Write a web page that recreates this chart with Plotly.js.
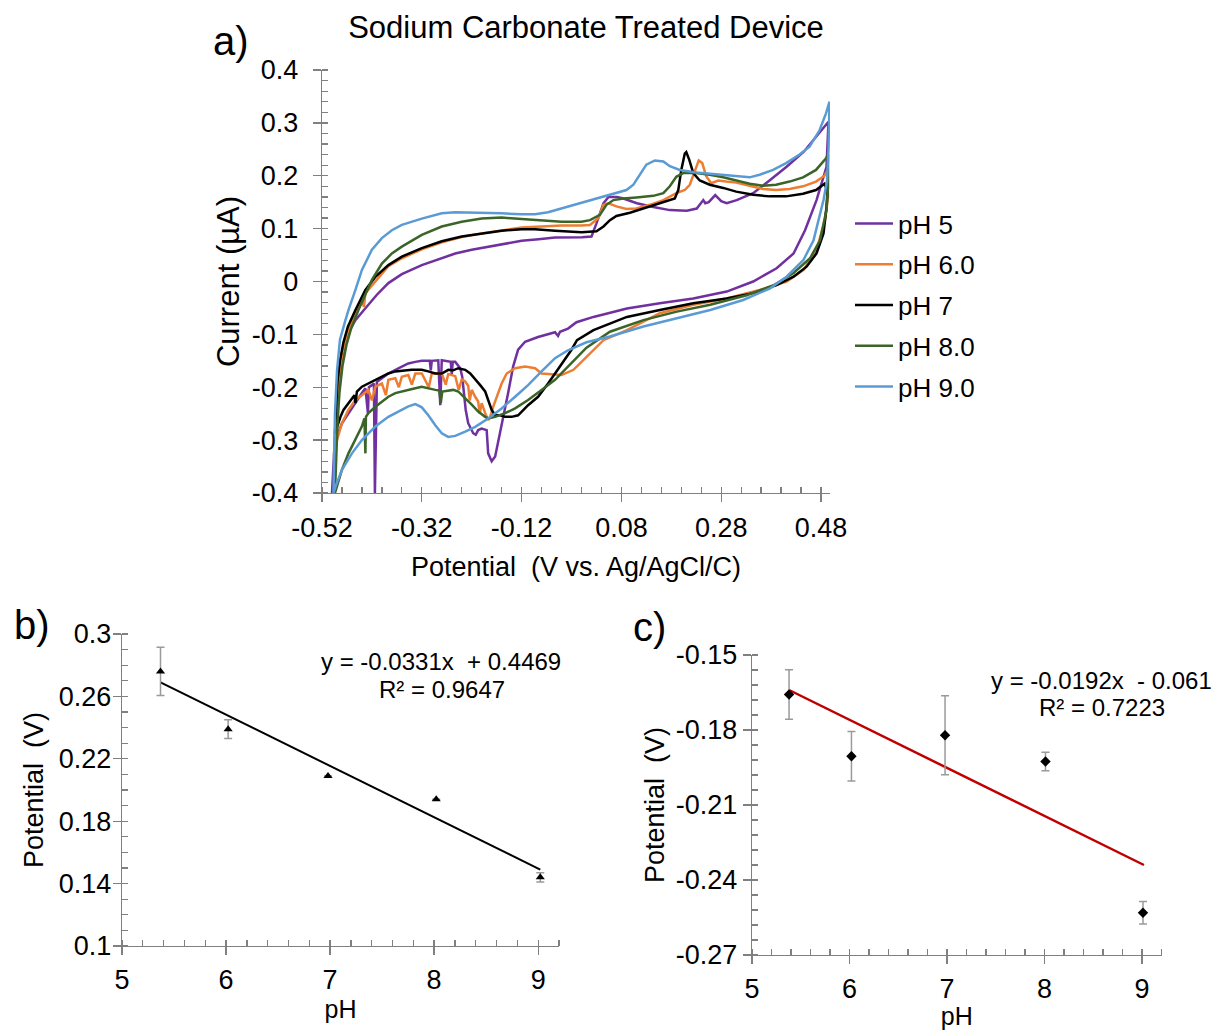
<!DOCTYPE html>
<html>
<head>
<meta charset="utf-8">
<script src="https://cdn.plot.ly/plotly-3.0.1.min.js"></script>
<style>
html,body{margin:0;padding:0;background:#ffffff;}
#chart{width:1214px;height:1030px;}
</style>
</head>
<body>
<div id="chart"></div>
<script>
// ---------------- Panel a) cyclic voltammograms (forward = upper branch, reverse = lower branch)
const seriesNames = ['pH 5', 'pH 6.0', 'pH 7', 'pH 8.0', 'pH 9.0'];

const pH5_fwd_x = [-0.500,-0.497,-0.494,-0.490,-0.484,-0.476,-0.466,-0.453,-0.436,-0.410,-0.387,-0.360,-0.320,-0.280,-0.253,-0.220,-0.186,-0.150,-0.120,-0.086,-0.053,0.001,0.020,0.030,0.044,0.054,0.071,0.084,0.111,0.144,0.177,0.211,0.231,0.244,0.248,0.255,0.268,0.280,0.291,0.311,0.344,0.378,0.411,0.445,0.471,0.495];
const pH5_fwd_y = [-0.400,-0.340,-0.280,-0.225,-0.175,-0.130,-0.095,-0.073,-0.054,-0.025,-0.003,0.014,0.031,0.044,0.053,0.060,0.066,0.072,0.077,0.080,0.083,0.0835,0.085,0.110,0.148,0.160,0.160,0.157,0.148,0.141,0.135,0.134,0.138,0.154,0.148,0.150,0.1635,0.152,0.148,0.154,0.167,0.192,0.217,0.245,0.274,0.302];
const pH5_rev_x = [0.491,0.471,0.448,0.425,0.391,0.344,0.291,0.224,0.157,0.091,0.024,-0.010,-0.027,-0.043,-0.047,-0.053,-0.087,-0.113,-0.127,-0.137,-0.147,-0.157,-0.167,-0.173,-0.180,-0.187,-0.190,-0.200,-0.207,-0.212,-0.217,-0.223,-0.227,-0.232,-0.235,-0.239,-0.243,-0.253,-0.258,-0.260,-0.262,-0.267,-0.280,-0.283,-0.287,-0.300,-0.302,-0.304,-0.320,-0.333,-0.347,-0.360,-0.373,-0.387,-0.400,-0.410,-0.414,-0.416,-0.420,-0.426,-0.428,-0.433,-0.440,-0.453,-0.467,-0.480,-0.490,-0.493,-0.496,-0.498];
const pH5_rev_y = [0.217,0.154,0.097,0.053,0.025,0.000,-0.019,-0.032,-0.041,-0.051,-0.067,-0.077,-0.089,-0.095,-0.103,-0.096,-0.105,-0.114,-0.129,-0.161,-0.211,-0.256,-0.300,-0.331,-0.340,-0.325,-0.281,-0.278,-0.281,-0.290,-0.287,-0.274,-0.268,-0.243,-0.211,-0.180,-0.164,-0.152,-0.152,-0.175,-0.152,-0.151,-0.149,-0.234,-0.149,-0.150,-0.168,-0.150,-0.150,-0.152,-0.155,-0.161,-0.167,-0.174,-0.183,-0.190,-0.400,-0.193,-0.196,-0.200,-0.249,-0.202,-0.211,-0.230,-0.249,-0.268,-0.293,-0.312,-0.356,-0.400];

const pH6_fwd_x = [-0.496,-0.494,-0.491,-0.486,-0.479,-0.470,-0.460,-0.450,-0.440,-0.436,-0.433,-0.413,-0.387,-0.360,-0.320,-0.280,-0.240,-0.200,-0.160,-0.120,-0.080,-0.040,0.000,0.017,0.034,0.044,0.054,0.070,0.090,0.110,0.137,0.164,0.190,0.207,0.217,0.227,0.235,0.242,0.250,0.260,0.274,0.290,0.310,0.337,0.364,0.390,0.417,0.444,0.470,0.487,0.493];
const pH6_fwd_y = [-0.330,-0.280,-0.230,-0.180,-0.135,-0.100,-0.075,-0.054,-0.035,-0.048,-0.022,0.000,0.029,0.044,0.061,0.074,0.084,0.091,0.097,0.102,0.104,0.106,0.106,0.107,0.120,0.145,0.148,0.142,0.137,0.138,0.145,0.154,0.167,0.173,0.183,0.211,0.229,0.224,0.199,0.186,0.191,0.189,0.187,0.181,0.175,0.173,0.175,0.180,0.189,0.200,0.210];
const pH6_rev_x = [0.494,0.488,0.471,0.445,0.411,0.357,0.291,0.224,0.157,0.091,0.044,0.010,-0.016,-0.040,-0.080,-0.093,-0.113,-0.133,-0.150,-0.160,-0.170,-0.177,-0.183,-0.187,-0.193,-0.200,-0.204,-0.207,-0.213,-0.220,-0.224,-0.227,-0.233,-0.240,-0.246,-0.253,-0.267,-0.272,-0.280,-0.300,-0.306,-0.320,-0.333,-0.340,-0.347,-0.360,-0.366,-0.373,-0.387,-0.392,-0.400,-0.413,-0.420,-0.427,-0.440,-0.453,-0.467,-0.480,-0.490,-0.496];
const pH6_rev_y = [0.160,0.116,0.060,0.022,0.000,-0.016,-0.032,-0.044,-0.060,-0.092,-0.111,-0.142,-0.167,-0.177,-0.174,-0.164,-0.161,-0.164,-0.174,-0.193,-0.218,-0.237,-0.256,-0.262,-0.249,-0.230,-0.250,-0.227,-0.218,-0.205,-0.225,-0.197,-0.189,-0.185,-0.205,-0.179,-0.175,-0.195,-0.174,-0.174,-0.200,-0.174,-0.174,-0.195,-0.177,-0.180,-0.200,-0.183,-0.186,-0.215,-0.193,-0.199,-0.225,-0.205,-0.215,-0.224,-0.243,-0.268,-0.300,-0.330];

const pH7_fwd_x = [-0.494,-0.492,-0.489,-0.484,-0.477,-0.468,-0.460,-0.453,-0.433,-0.413,-0.387,-0.360,-0.320,-0.280,-0.240,-0.200,-0.160,-0.120,-0.093,-0.053,0.000,0.030,0.044,0.057,0.070,0.097,0.124,0.150,0.170,0.187,0.194,0.200,0.207,0.210,0.216,0.224,0.237,0.257,0.284,0.310,0.344,0.377,0.410,0.444,0.470,0.487];
const pH7_fwd_y = [-0.287,-0.240,-0.190,-0.150,-0.115,-0.085,-0.068,-0.054,-0.016,0.009,0.031,0.047,0.063,0.076,0.085,0.091,0.096,0.099,0.099,0.096,0.093,0.095,0.104,0.116,0.124,0.130,0.138,0.146,0.151,0.157,0.173,0.211,0.242,0.245,0.230,0.205,0.191,0.183,0.177,0.170,0.164,0.161,0.161,0.166,0.173,0.185];
const pH7_rev_x = [0.493,0.491,0.485,0.471,0.451,0.425,0.391,0.344,0.291,0.224,0.157,0.091,0.024,-0.009,-0.020,-0.040,-0.053,-0.067,-0.087,-0.107,-0.120,-0.127,-0.140,-0.153,-0.163,-0.173,-0.180,-0.187,-0.193,-0.203,-0.213,-0.223,-0.233,-0.247,-0.257,-0.267,-0.280,-0.293,-0.307,-0.320,-0.340,-0.360,-0.373,-0.387,-0.400,-0.413,-0.427,-0.440,-0.450,-0.453,-0.455,-0.467,-0.477,-0.483,-0.490,-0.494];
const pH7_rev_y = [0.170,0.141,0.091,0.053,0.028,0.009,-0.007,-0.022,-0.032,-0.041,-0.054,-0.067,-0.092,-0.111,-0.129,-0.155,-0.174,-0.193,-0.218,-0.234,-0.246,-0.253,-0.256,-0.256,-0.253,-0.253,-0.243,-0.224,-0.208,-0.196,-0.186,-0.174,-0.167,-0.164,-0.168,-0.167,-0.174,-0.174,-0.170,-0.167,-0.167,-0.168,-0.170,-0.174,-0.180,-0.186,-0.193,-0.199,-0.208,-0.230,-0.215,-0.230,-0.243,-0.256,-0.274,-0.287];

const pH8_fwd_x = [-0.494,-0.492,-0.489,-0.485,-0.479,-0.471,-0.462,-0.447,-0.420,-0.400,-0.380,-0.360,-0.320,-0.280,-0.240,-0.200,-0.160,-0.120,-0.080,-0.040,0.000,0.017,0.037,0.050,0.064,0.084,0.110,0.144,0.164,0.177,0.190,0.204,0.230,0.257,0.284,0.310,0.337,0.364,0.390,0.417,0.444,0.470,0.490,0.494];
const pH8_fwd_y = [-0.400,-0.330,-0.270,-0.210,-0.160,-0.120,-0.090,-0.054,0.003,0.034,0.053,0.066,0.088,0.104,0.113,0.119,0.121,0.118,0.115,0.113,0.113,0.116,0.126,0.145,0.154,0.157,0.159,0.162,0.167,0.180,0.198,0.205,0.205,0.202,0.197,0.191,0.185,0.181,0.183,0.189,0.197,0.211,0.233,0.240];
const pH8_rev_x = [0.494,0.491,0.478,0.458,0.425,0.385,0.331,0.258,0.191,0.124,0.057,0.010,-0.027,-0.053,-0.080,-0.107,-0.133,-0.153,-0.173,-0.187,-0.193,-0.207,-0.220,-0.233,-0.247,-0.257,-0.267,-0.279,-0.282,-0.285,-0.293,-0.307,-0.320,-0.333,-0.347,-0.360,-0.373,-0.387,-0.400,-0.413,-0.427,-0.432,-0.433,-0.435,-0.440,-0.453,-0.467,-0.480,-0.490,-0.494];
const pH8_rev_y = [0.180,0.135,0.078,0.044,0.016,-0.007,-0.026,-0.044,-0.057,-0.073,-0.095,-0.125,-0.161,-0.186,-0.205,-0.224,-0.240,-0.249,-0.256,-0.259,-0.256,-0.246,-0.233,-0.221,-0.208,-0.205,-0.207,-0.208,-0.230,-0.206,-0.205,-0.202,-0.199,-0.202,-0.205,-0.208,-0.211,-0.218,-0.227,-0.237,-0.249,-0.256,-0.325,-0.259,-0.274,-0.300,-0.325,-0.356,-0.388,-0.400];

const pH9_fwd_x = [-0.497,-0.496,-0.494,-0.490,-0.484,-0.473,-0.467,-0.453,-0.440,-0.420,-0.400,-0.380,-0.360,-0.320,-0.280,-0.253,-0.200,-0.160,-0.120,-0.093,-0.067,-0.040,-0.023,0.017,0.057,0.090,0.104,0.117,0.130,0.147,0.164,0.177,0.197,0.230,0.277,0.310,0.337,0.357,0.384,0.410,0.437,0.457,0.477,0.490,0.497];
const pH9_fwd_y = [-0.400,-0.330,-0.250,-0.170,-0.110,-0.073,-0.054,-0.016,0.022,0.060,0.082,0.097,0.107,0.119,0.129,0.131,0.130,0.129,0.127,0.127,0.131,0.138,0.143,0.154,0.163,0.173,0.183,0.202,0.221,0.229,0.227,0.218,0.211,0.206,0.202,0.200,0.197,0.202,0.211,0.224,0.240,0.255,0.286,0.318,0.340];
const pH9_rev_x = [0.495,0.492,0.485,0.465,0.445,0.411,0.378,0.324,0.258,0.191,0.124,0.057,0.010,-0.027,-0.053,-0.080,-0.107,-0.133,-0.160,-0.187,-0.213,-0.233,-0.253,-0.267,-0.280,-0.293,-0.307,-0.320,-0.333,-0.347,-0.360,-0.387,-0.413,-0.440,-0.460,-0.480,-0.493,-0.497];
const pH9_rev_y = [0.250,0.190,0.154,0.078,0.041,0.009,-0.013,-0.035,-0.054,-0.070,-0.085,-0.104,-0.115,-0.130,-0.145,-0.170,-0.196,-0.218,-0.240,-0.259,-0.275,-0.284,-0.292,-0.294,-0.287,-0.272,-0.253,-0.238,-0.232,-0.236,-0.242,-0.256,-0.274,-0.300,-0.325,-0.356,-0.388,-0.400];

const cvTickVals = [-0.52,-0.32,-0.12,0.08,0.28,0.48];
const cvTickText = ['-0.52','-0.32','-0.12','0.08','0.28','0.48'];
const curTickVals = [-0.4,-0.3,-0.2,-0.1,0,0.1,0.2,0.3,0.4];
const curTickText = ['-0.4','-0.3','-0.2','-0.1','0','0.1','0.2','0.3','0.4'];

// ---------------- Panel b)
const pH_b = [5.37, 6.02, 6.98, 8.02, 9.02];
const potential_b = [0.276, 0.239, 0.209, 0.194, 0.144];
const error_b = [0.0155, 0.006, 0, 0, 0.003];
const trend_b_x = [5.37, 9.02];
const trend_b_y = [0.269, 0.149];
const potBTickVals = [0.1,0.14,0.18,0.22,0.26,0.3];
const potBTickText = ['0.1','0.14','0.18','0.22','0.26','0.3'];

// ---------------- Panel c)
const pH_c = [5.38, 6.02, 6.98, 8.01, 9.01];
const potential_c = [-0.1658, -0.1905, -0.1821, -0.1926, -0.2531];
const error_c = [0.0099, 0.0099, 0.0158, 0.0037, 0.0045];
const trend_c_x = [5.38, 9.02];
const trend_c_y = [-0.164, -0.234];
const potCTickVals = [-0.27,-0.24,-0.21,-0.18,-0.15];
const potCTickText = ['-0.27','-0.24','-0.21','-0.18','-0.15'];

const pHTickVals = [5,6,7,8,9];
const pHTickText = ['5','6','7','8','9'];

// ---------------- styling
const FONT = 'Liberation Sans, Arial, Helvetica, sans-serif';
const AX = '#808080';
const colors = ['#7030A0', '#ED7D31', '#000000', '#3B6528', '#5B9BD5'];
const W = 1214, H = 1030;
const fx = p => p / W;
const fy = p => 1 - p / H;

const cvSets = [
  [pH5_fwd_x, pH5_fwd_y, pH5_rev_x, pH5_rev_y],
  [pH6_fwd_x, pH6_fwd_y, pH6_rev_x, pH6_rev_y],
  [pH7_fwd_x, pH7_fwd_y, pH7_rev_x, pH7_rev_y],
  [pH8_fwd_x, pH8_fwd_y, pH8_rev_x, pH8_rev_y],
  [pH9_fwd_x, pH9_fwd_y, pH9_rev_x, pH9_rev_y]
];

const traces = cvSets.map((s, i) => ({
  type: 'scatter', mode: 'lines',
  x: s[0].concat(s[2]), y: s[1].concat(s[3]),
  name: seriesNames[i], legendgroup: 'g' + i,
  line: { color: colors[i], width: 2.5 },
  xaxis: 'x', yaxis: 'y', hoverinfo: 'skip'
}));

traces.push({
  type: 'scatter', mode: 'lines', x: trend_b_x, y: trend_b_y,
  line: { color: '#000000', width: 2 }, xaxis: 'x2', yaxis: 'y2', showlegend: false, hoverinfo: 'skip'
});
traces.push({
  type: 'scatter', mode: 'markers', x: pH_b, y: potential_b,
  marker: { symbol: 'triangle-up', size: 8, color: '#000000' },
  error_y: { type: 'data', array: error_b, visible: true, color: '#9a9a9a', thickness: 1.5, width: 4 },
  xaxis: 'x2', yaxis: 'y2', showlegend: false, hoverinfo: 'skip'
});
traces.push({
  type: 'scatter', mode: 'lines', x: trend_c_x, y: trend_c_y,
  line: { color: '#C00000', width: 2.5 }, xaxis: 'x3', yaxis: 'y3', showlegend: false, hoverinfo: 'skip'
});
traces.push({
  type: 'scatter', mode: 'markers', x: pH_c, y: potential_c,
  marker: { symbol: 'diamond', size: 8, color: '#000000' },
  error_y: { type: 'data', array: error_c, visible: true, color: '#9a9a9a', thickness: 1.5, width: 4 },
  xaxis: 'x3', yaxis: 'y3', showlegend: false, hoverinfo: 'skip'
});

function mainAxis(o) {
  const base = {
    showline: true, linecolor: AX, linewidth: 1.3,
    ticks: 'outside', ticklen: 8, tickwidth: 1.3, tickcolor: AX,
    showgrid: false, zeroline: false, fixedrange: true, automargin: false,
    tickmode: 'array',
    tickfont: { family: FONT, size: 27, color: '#000000' }
  };
  return Object.assign(base, o);
}
function crossAxis(o) {
  const base = {
    showline: false, showgrid: false, zeroline: false, fixedrange: true,
    ticks: 'inside', ticklen: 8, tickwidth: 1.3, tickcolor: AX,
    showticklabels: false, tickmode: 'array', automargin: false
  };
  return Object.assign(base, o);
}

const layout = {
  width: W, height: H,
  margin: { l: 0, r: 0, t: 0, b: 0, pad: 0 },
  paper_bgcolor: '#ffffff', plot_bgcolor: '#ffffff',
  font: { family: FONT, color: '#000000' },
  title: { text: 'Sodium Carbonate Treated Device', x: fx(586), xanchor: 'center', y: fy(27), yanchor: 'middle',
           font: { family: FONT, size: 31, color: '#000000' } },
  showlegend: true,
  legend: { x: fx(850), y: fy(200), xanchor: 'left', yanchor: 'top', bgcolor: 'rgba(0,0,0,0)',
            font: { family: FONT, size: 26, color: '#000000' }, tracegroupgap: 4, itemwidth: 38 },
  // panel a
  xaxis: mainAxis({ domain: [fx(322), fx(830)], anchor: 'y', range: [-0.52, 0.498],
    tickvals: cvTickVals, ticktext: cvTickText, ticklabelstandoff: 2,
    minor: { tick0: -0.52, dtick: 0.04, ticks: 'inside', ticklen: 6, tickwidth: 1.3, tickcolor: AX, showgrid: false },
    title: { text: 'Potential  (V vs. Ag/AgCl/C)', standoff: 15, font: { family: FONT, size: 27, color: '#000000' } } }),
  yaxis: mainAxis({ domain: [fy(493), fy(70)], anchor: 'x', range: [-0.4, 0.4],
    tickvals: curTickVals, ticktext: curTickText, ticklabelstandoff: 9,
    minor: { tick0: -0.4, dtick: 0.02, ticks: 'inside', ticklen: 6, tickwidth: 1.3, tickcolor: AX, showgrid: false },
    title: { text: 'Current (µA)', standoff: 3, font: { family: FONT, size: 31, color: '#000000' } } }),
  // panel b
  xaxis2: mainAxis({ domain: [fx(122), fx(559)], anchor: 'y2', range: [5, 9.2],
    tickvals: pHTickVals, ticktext: pHTickText, ticklabelstandoff: 1,
    minor: { tick0: 5, dtick: 0.2, ticks: 'inside', ticklen: 6, tickwidth: 1.3, tickcolor: AX, showgrid: false },
    title: { text: 'pH', standoff: 6, font: { family: FONT, size: 25, color: '#000000' } } }),
  yaxis2: mainAxis({ domain: [fy(946), fy(634)], anchor: 'x2', range: [0.1, 0.3],
    tickvals: potBTickVals, ticktext: potBTickText, ticklabelstandoff: -4,
    minor: { tick0: 0.1, dtick: 0.01, ticks: 'inside', ticklen: 6, tickwidth: 1.3, tickcolor: AX, showgrid: false },
    title: { text: 'Potential  (V)', standoff: 7, font: { family: FONT, size: 27, color: '#000000' } } }),
  // panel c
  xaxis3: mainAxis({ domain: [fx(752), fx(1161.5)], anchor: 'y3', range: [5, 9.2],
    tickvals: pHTickVals, ticktext: pHTickText, ticklabelstandoff: 1,
    minor: { tick0: 5, dtick: 0.2, ticks: 'inside', ticklen: 6, tickwidth: 1.3, tickcolor: AX, showgrid: false },
    title: { text: 'pH', standoff: 8, font: { family: FONT, size: 25, color: '#000000' } } }),
  yaxis3: mainAxis({ domain: [fy(955), fy(655)], anchor: 'x3', range: [-0.27, -0.15],
    tickvals: potCTickVals, ticktext: potCTickText, ticklabelstandoff: 0,
    minor: { tick0: -0.27, dtick: 0.006, ticks: 'inside', ticklen: 6, tickwidth: 1.3, tickcolor: AX, showgrid: false },
    title: { text: 'Potential  (V)', standoff: 3, font: { family: FONT, size: 27, color: '#000000' } } }),
  // inner halves of the crossing major ticks
  xaxis4: crossAxis({ overlaying: 'x', anchor: 'y', side: 'bottom', range: [-0.52, 0.498], tickvals: cvTickVals }),
  yaxis4: crossAxis({ overlaying: 'y', anchor: 'x', side: 'left', range: [-0.4, 0.4], tickvals: curTickVals }),
  xaxis5: crossAxis({ overlaying: 'x2', anchor: 'y2', side: 'bottom', range: [5, 9.2], tickvals: pHTickVals }),
  yaxis5: crossAxis({ overlaying: 'y2', anchor: 'x2', side: 'left', range: [0.1, 0.3], tickvals: potBTickVals }),
  xaxis6: crossAxis({ overlaying: 'x3', anchor: 'y3', side: 'bottom', range: [5, 9.2], tickvals: pHTickVals }),
  yaxis6: crossAxis({ overlaying: 'y3', anchor: 'x3', side: 'left', range: [-0.27, -0.15], tickvals: potCTickVals }),
  annotations: [
    { text: 'a)', xref: 'paper', yref: 'paper', x: fx(231), y: fy(41), xanchor: 'center', yanchor: 'middle', showarrow: false, font: { family: FONT, size: 40, color: '#000000' } },
    { text: 'b)', xref: 'paper', yref: 'paper', x: fx(32), y: fy(625), xanchor: 'center', yanchor: 'middle', showarrow: false, font: { family: FONT, size: 40, color: '#000000' } },
    { text: 'c)', xref: 'paper', yref: 'paper', x: fx(649), y: fy(627), xanchor: 'center', yanchor: 'middle', showarrow: false, font: { family: FONT, size: 40, color: '#000000' } },
    { text: 'y = -0.0331x  + 0.4469', xref: 'paper', yref: 'paper', x: fx(441), y: fy(661), xanchor: 'center', yanchor: 'middle', showarrow: false, font: { family: FONT, size: 24, color: '#000000' } },
    { text: 'R² = 0.9647', xref: 'paper', yref: 'paper', x: fx(442), y: fy(689), xanchor: 'center', yanchor: 'middle', showarrow: false, font: { family: FONT, size: 24, color: '#000000' } },
    { text: 'y = -0.0192x  - 0.061', xref: 'paper', yref: 'paper', x: fx(1101), y: fy(680), xanchor: 'center', yanchor: 'middle', showarrow: false, font: { family: FONT, size: 24, color: '#000000' } },
    { text: 'R² = 0.7223', xref: 'paper', yref: 'paper', x: fx(1102), y: fy(707), xanchor: 'center', yanchor: 'middle', showarrow: false, font: { family: FONT, size: 24, color: '#000000' } }
  ]
};

Plotly.newPlot('chart', traces, layout, { displayModeBar: false, staticPlot: true });
</script>
</body>
</html>
